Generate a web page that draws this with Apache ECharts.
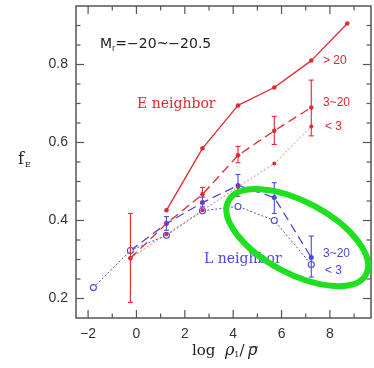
<!DOCTYPE html>
<html><head><meta charset="utf-8">
<script src="https://cdn.jsdelivr.net/npm/echarts@6/dist/echarts.min.js"></script>
<style>html,body{margin:0;padding:0;background:#fff}#c{width:374px;height:368px}</style>
</head><body><div id="c"></div>
<script>
// ---- data ----
const redGT20 = [[1.24,0.426],[2.73,0.585],[4.2,0.695],[5.7,0.741],[7.23,0.81],[8.72,0.905]];
const red3to20 = [[-0.25,0.303],[1.24,0.392],[2.73,0.467],[4.2,0.567],[5.7,0.63],[7.23,0.69]];
const redLT3 = [[-0.25,0.303],[1.24,0.365],[2.73,0.426],[4.2,0.486],[5.7,0.546],[7.23,0.641]];
const blue3to20 = [[-0.25,0.323],[1.24,0.392],[2.73,0.446],[4.2,0.49],[5.7,0.459],[7.23,0.305]];
const blueLT3 = [[-1.78,0.228],[-0.25,0.323],[1.24,0.362],[2.73,0.425],[4.2,0.436],[5.7,0.40],[7.23,0.287]];
const redErr = [[-0.25,0.19,0.418],[2.73,0.447,0.485],[4.2,0.548,0.59],[5.7,0.595,0.667],[7.23,0.617,0.76]];
const blueErr = [[1.24,0.375,0.41],[2.73,0.435,0.46],[4.2,0.462,0.518],[5.7,0.418,0.497],[7.23,0.255,0.36]];
const xMajor = [-2,0,2,4,6,8];
const xMinor = [-1,1,3,5,7,9];
const yMajor = [0.2,0.4,0.6,0.8];
const yMinor = [0.25,0.3,0.35,0.45,0.5,0.55,0.65,0.7,0.75,0.85,0.9];
const xLabels = ['-2','0','2','4','6','8'];
const yLabels = ['0.2','0.4','0.6','0.8'];
const ellipseCenter = [6.65,0.356];

const RED = '#e2282f', PINK = '#ee8085', BLUE = '#4a4adc', AX = '#555';
const chart = echarts.init(document.getElementById('c'));

function errSeries(data, color) {
  return {type:'custom', data:data, encode:{x:0,y:[1,2]}, clip:false, z:5,
    renderItem:function(params, api){
      const x = api.value(0);
      const lo = api.coord([x, api.value(1)]);
      const hi = api.coord([x, api.value(2)]);
      const st = {stroke:color, lineWidth:1.1};
      return {type:'group', children:[
        {type:'line', shape:{x1:lo[0],y1:lo[1],x2:hi[0],y2:hi[1]}, style:st},
        {type:'line', shape:{x1:lo[0]-2.5,y1:lo[1],x2:lo[0]+2.5,y2:lo[1]}, style:st},
        {type:'line', shape:{x1:hi[0]-2.5,y1:hi[1],x2:hi[0]+2.5,y2:hi[1]}, style:st}
      ]};
    }};
}
function tickSeries(vals, isX, len) {
  return {type:'custom', clip:false, silent:true, z:6,
    data: vals.map(v => isX ? [v, 0.5] : [0, v]), encode:{x:0,y:1},
    renderItem:function(params, api){
      const cs = params.coordSys;
      const st = {stroke:AX, lineWidth:1.2};
      if (isX) {
        const px = api.coord([api.value(0), 0.5])[0];
        const b = cs.y + cs.height, t = cs.y;
        return {type:'group', children:[
          {type:'line', shape:{x1:px,y1:b,x2:px,y2:b-len}, style:st},
          {type:'line', shape:{x1:px,y1:t,x2:px,y2:t+len}, style:st}]};
      } else {
        const py = api.coord([0, api.value(1)])[1];
        const l = cs.x, r = cs.x + cs.width;
        return {type:'group', children:[
          {type:'line', shape:{x1:l,y1:py,x2:l+len,y2:py}, style:st},
          {type:'line', shape:{x1:r,y1:py,x2:r-len,y2:py}, style:st}]};
      }
    }};
}

const option = {
  animation:false,
  grid:{left:76, right:3, top:6, bottom:50, show:true, borderColor:AX, borderWidth:1.5},
  xAxis:{type:'value', min:-2.5, max:9.7, interval:0.5,
    axisLine:{show:false}, axisTick:{show:false}, splitLine:{show:false},
    axisLabel:{margin:9, color:'#333', fontSize:14, fontFamily:'Liberation Sans',
      formatter:function(v){ const i = xMajor.findIndex(m => Math.abs(m-v)<1e-6); return i>=0 ? xLabels[i].replace('-','\u2212') : ''; }}},
  yAxis:{type:'value', min:0.15, max:0.95, interval:0.05,
    axisLine:{show:false}, axisTick:{show:false}, splitLine:{show:false},
    axisLabel:{margin:8, color:'#333', fontSize:14, fontFamily:'Liberation Sans',
      formatter:function(v){ const i = yMajor.findIndex(m => Math.abs(m-v)<1e-6); return i>=0 ? yLabels[i] : ''; }}},
  series:[
    tickSeries(xMajor, true, 8), tickSeries(xMinor, true, 4.5),
    tickSeries(yMajor, false, 8), tickSeries(yMinor, false, 4.5),
    errSeries(redErr, RED), errSeries(blueErr, BLUE),
    {type:'line', data:redGT20, symbol:'circle', symbolSize:4.5, itemStyle:{color:RED}, lineStyle:{color:RED, width:1.3}, z:4},
    {type:'line', data:red3to20, symbol:'circle', symbolSize:4.5, itemStyle:{color:RED}, lineStyle:{color:RED, width:1.3, type:[9,5]}, z:4},
    {type:'line', data:redLT3, symbol:'circle', symbolSize:4, itemStyle:{color:RED}, lineStyle:{color:PINK, width:1, type:[2,2]}, z:4},
    {type:'line', data:blue3to20, symbol:'circle', symbolSize:5, itemStyle:{color:BLUE}, lineStyle:{color:BLUE, width:1.3, type:[9,5]}, z:3},
    {type:'line', data:blueLT3, symbol:'circle', symbolSize:6, showAllSymbol:true, itemStyle:{color:'#fff', borderColor:BLUE, borderWidth:1.1}, lineStyle:{color:BLUE, width:1, type:[2,2]}, z:3}
  ],
  graphic:[
    {type:'text', left:100, top:37, style:{text:'{m|M}{s|r}{m|=\u221220~\u221220.5}', rich:{m:{fontSize:14, fontFamily:'DejaVu Sans', fill:'#222'}, s:{fontSize:8, fontFamily:'DejaVu Sans', fill:'#222', padding:[9,0,0,0]}}}},
    {type:'text', left:137, top:97, style:{text:'E neighbor', fontSize:14, fontFamily:'DejaVu Serif', fill:RED}},
    {type:'text', left:204, top:252, style:{text:'L neighbor', fontSize:14, fontFamily:'DejaVu Serif', fill:BLUE}},
    {type:'text', left:323, top:55, style:{text:'> 20', fontSize:12, fontFamily:'Liberation Sans', fill:RED}},
    {type:'text', left:323, top:97, style:{text:'3~20', fontSize:12, fontFamily:'Liberation Sans', fill:RED}},
    {type:'text', left:325, top:121, style:{text:'< 3', fontSize:12, fontFamily:'Liberation Sans', fill:RED}},
    {type:'text', left:323, top:248, style:{text:'3~20', fontSize:12, fontFamily:'Liberation Sans', fill:BLUE}},
    {type:'text', left:325, top:265, style:{text:'< 3', fontSize:12, fontFamily:'Liberation Sans', fill:BLUE}},
    {type:'text', left:18, top:152, style:{text:'{f|f}{s|E}', rich:{f:{fontSize:16, fontFamily:'DejaVu Serif', fill:'#222'}, s:{fontSize:8, fontFamily:'DejaVu Serif', fill:'#222', padding:[9,0,0,1]}}}},
    {type:'text', left:192, top:343, style:{text:'{a|log  }{r|\u03c1}{s|1}{a|/}', rich:{a:{fontSize:15, fontFamily:'DejaVu Serif', fill:'#222'}, r:{fontSize:16, fontFamily:'DejaVu Serif', fontStyle:'italic', fill:'#222'}, s:{fontSize:8, fontFamily:'DejaVu Serif', fill:'#222', padding:[8,0,0,0]}}}},
    {type:'text', left:248, top:343, style:{text:'\u03c1', fontSize:16, fontFamily:'DejaVu Serif', fontStyle:'italic', fill:'#222'}},
    {type:'line', shape:{x1:249, y1:347, x2:258, y2:347}, style:{stroke:'#222', lineWidth:1}}
  ]
};
chart.setOption(option);
const ec = chart.convertToPixel({gridIndex:0}, ellipseCenter);
chart.setOption({graphic:[{type:'ellipse', id:'ell', x:ec[0], y:ec[1], rotation:-0.49, z:100,
  shape:{cx:0, cy:0, rx:78, ry:36}, style:{fill:null, stroke:'#1fe01f', lineWidth:6}}]});
</script></body></html>
